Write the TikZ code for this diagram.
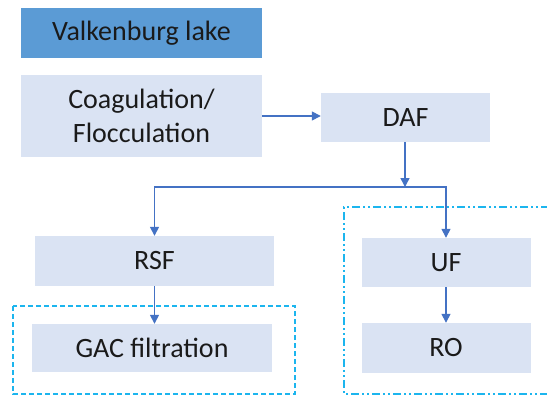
\documentclass[tikz,border=0pt]{standalone}
\usepackage{fontspec}
\setmainfont{Carlito}
\usetikzlibrary{arrows.meta}
\definecolor{lakeblue}{HTML}{5B9BD5}
\definecolor{lightbox}{HTML}{DAE3F3}
\definecolor{arrblue}{HTML}{4472C4}
\definecolor{cyanline}{HTML}{1CB5EE}
\definecolor{txt}{HTML}{1A1A1A}
\tikzset{
  procbox/.style={rectangle, fill=lightbox, inner sep=0pt, text=txt,
    font=\fontsize{28}{34}\selectfont, align=center},
  lakebox/.style={procbox, fill=lakeblue},
  flowarr/.style={draw=arrblue, line width=1.5pt, -{Triangle[length=9pt,width=9pt]}},
  dashbox/.style={draw=cyanline, line width=1.8pt, dash pattern=on 5pt off 3pt},
  dashdotbox/.style={draw=cyanline, line width=1.8pt, dash pattern=on 8pt off 3pt on 2pt off 3pt on 2pt off 3pt}
}
\begin{document}
\begin{tikzpicture}[x=1pt,y=-1pt]
\useasboundingbox (0,0) rectangle (547,396);
\node[lakebox, minimum width=241pt, minimum height=50pt] (lake) at (141.5,33) {Valkenburg lake};
\node[procbox, minimum width=241pt, minimum height=82pt] (coag) at (141.5,116) {Coagulation/\\Flocculation};
\node[procbox, minimum width=169pt, minimum height=49pt] (daf) at (405.5,117.5) {DAF};
\node[procbox, minimum width=239pt, minimum height=50pt] (rsf) at (154.5,261) {RSF};
\node[procbox, minimum width=240pt, minimum height=48pt] (gac) at (152,348) {GAC filtration};
\node[procbox, minimum width=169pt, minimum height=49pt] (uf) at (446,262.5) {UF};
\node[procbox, minimum width=169pt, minimum height=50pt] (ro) at (446,348) {RO};
\coordinate (j) at (405,187);
\coordinate (lbA) at (13,306);
\coordinate (lbB) at (295,394);
\coordinate (rbA) at (549,207);
\coordinate (rbB) at (344,207);
\coordinate (rbC) at (344,394);
\coordinate (rbD) at (549,394);
\draw[dashbox] (lbA) rectangle (lbB);
\draw[dashdotbox] (rbA) -- (rbB) -- (rbC) -- (rbD);
\draw[flowarr] (coag.east) -- (coag.east -| daf.west);
\draw[flowarr] (daf.south -| j) -- (j);
\draw[flowarr] (j) -| (rsf.north);
\draw[flowarr] (j) -| (uf.north);
\draw[flowarr] (rsf.south) -- (rsf.south |- gac.north);
\draw[flowarr] (uf.south) -- (ro.north);
\end{tikzpicture}
\end{document}
